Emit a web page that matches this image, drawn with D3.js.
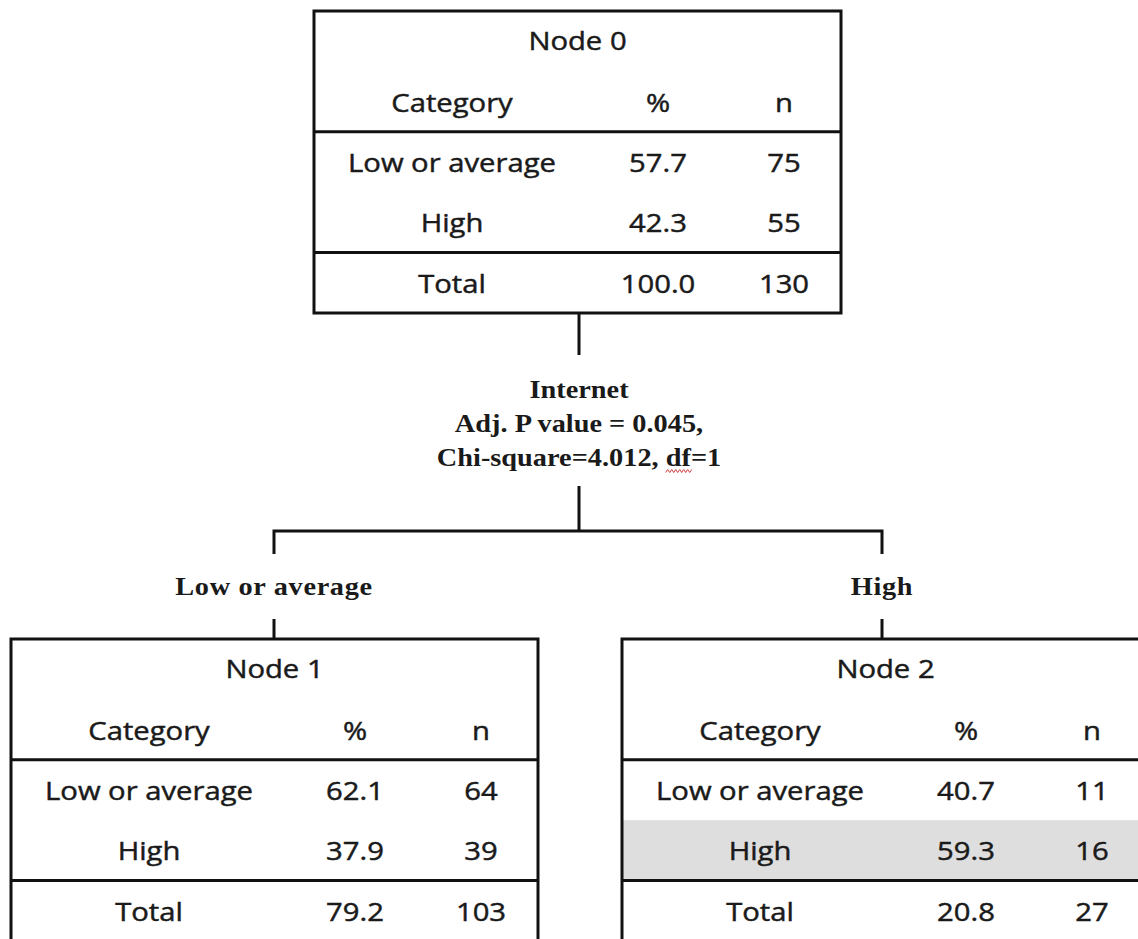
<!DOCTYPE html>
<html lang="en">
<head>
    <meta charset="UTF-8">
    <title>Decision tree - Internet</title>
    <script src="https://cdnjs.cloudflare.com/ajax/libs/d3/7.8.5/d3.min.js"></script>
    <style>
        body { margin: 0; background: #fff; }
        .cell { font-family: "Open Sans", "Noto Sans", sans-serif; font-size: 25px; fill: #1a1a1a; stroke: #1a1a1a; stroke-width: 0.45px; }
        .split { font-family: "Liberation Serif", "Times New Roman", serif; font-weight: bold; font-size: 26px; fill: #1a1a1a; }
        .branch { letter-spacing: 0.6px; }
        .rule { stroke: #111; stroke-width: 3; fill: none; }
    </style>
</head>
<body>
<div id="chart"></div>
<script>
    // tree data
    const nodeNames = ["Node 0", "Node 1", "Node 2"];
    const categories = ["Low or average", "High"];
    const pctValues = [[57.7, 42.3], [62.1, 37.9], [40.7, 59.3]];
    const nValues = [[75, 55], [64, 39], [11, 16]];
    const totalPct = [100.0, 79.2, 20.8];
    const totalN = [130, 103, 27];
    const shadedRow = [null, null, 1];   // predicted category in terminal node 2
    const splitVariable = "Internet";
    const splitStats = ["Adj. P value = 0.045,", "Chi-square=4.012, df=1"];
    const branchLabels = ["Low or average", "High"];
    const columnHeads = ["Category", "%", "n"];

    const W = 1138, H = 939;
    const boxW = 527, rowH = 60.4;
    const sansStretch = 1.17, serifStretch = 1.09;   // the source picture is a bit wide

    // where each node box sits (left, top)
    const nodePos = [[314, 11], [11, 639], [622, 639]];

    const svg = d3.select("#chart").append("svg")
        .attr("width", W).attr("height", H);

    const rowY = d3.scaleBand()
        .domain(["title", "head", "r0", "r1", "total"])
        .range([0, rowH * 5]);

    const colX = d3.scaleOrdinal()
        .domain(columnHeads)
        .range([138, 344, 470]);

    const fmtPct = d3.format(".1f");

    // centred text, stretched horizontally about its anchor
    function label(parent, cls, x, y, txt, sx) {
        return parent.append("text")
            .attr("class", cls)
            .attr("transform", `translate(${x},${y}) scale(${sx},1)`)
            .attr("dy", ".35em")
            .attr("text-anchor", "middle")
            .text(txt);
    }

    nodeNames.forEach((name, i) => {
        const g = svg.append("g")
            .attr("transform", `translate(${nodePos[i][0]},${nodePos[i][1]})`);

        if (shadedRow[i] != null) {
            g.append("rect")
                .attr("x", 0)
                .attr("y", rowY("r" + shadedRow[i]))
                .attr("width", boxW)
                .attr("height", rowY.bandwidth())
                .attr("fill", "#dedede");
        }

        // outer box + two horizontal rules
        g.append("rect").attr("class", "rule")
            .attr("width", boxW).attr("height", rowH * 5);
        [rowY("r0"), rowY("total")].forEach(y => {
            g.append("line").attr("class", "rule")
                .attr("x1", 0).attr("x2", boxW).attr("y1", y).attr("y2", y);
        });

        const mid = r => rowY(r) + rowY.bandwidth() / 2;

        label(g, "cell", boxW / 2, mid("title"), name, sansStretch);
        columnHeads.forEach(h => label(g, "cell", colX(h), mid("head") + 2, h, sansStretch));

        const rows = categories.map((c, j) => ({key: "r" + j, cells: [c, fmtPct(pctValues[i][j]), nValues[i][j]]}));
        rows.push({key: "total", cells: ["Total", fmtPct(totalPct[i]), totalN[i]]});

        rows.forEach(r => {
            r.cells.forEach((d, k) => label(g, "cell", colX(columnHeads[k]), mid(r.key) + 1, d, sansStretch));
        });
    });

    // connectors
    const c0 = 579, c1 = 274, c2 = 882;
    const link = d3.line();
    [
        [[c0, 313], [c0, 355]],
        [[c0, 486], [c0, 531]],
        [[c1, 554], [c1, 531], [c2, 531], [c2, 554]],
        [[c1, 619], [c1, 639]],
        [[c2, 619], [c2, 639]]
    ].forEach(p => svg.append("path").attr("class", "rule").attr("d", link(p)));

    // split description
    const splitLines = [splitVariable].concat(splitStats);
    const splitNodes = splitLines.map((d, i) => label(svg, "split", c0, 389 + i * 34, d, serifStretch));

    // spell-check squiggle under "df"
    const lastLine = splitNodes[2].node();
    const full = lastLine.getComputedTextLength();
    const at = splitStats[1].indexOf("df");
    const dfStart = lastLine.getSubStringLength(0, at) * serifStretch;
    const dfLen = lastLine.getSubStringLength(at, 2) * serifStretch;
    const sx = c0 - full * serifStretch / 2 + dfStart, sy = 389 + 2 * 34 + 14;
    const pts = d3.range(0, Math.ceil(dfLen / 2) + 1).map(k => [sx + k * 2, sy + (k % 2 ? -1.5 : 1.5)]);
    svg.append("path").attr("d", d3.line()(pts))
        .attr("fill", "none").attr("stroke", "#d04040").attr("stroke-width", 1);

    // branch labels
    branchLabels.forEach((d, i) => label(svg, "split branch", [c1, c2][i], 586, d, serifStretch));
</script>
</body>
</html>
